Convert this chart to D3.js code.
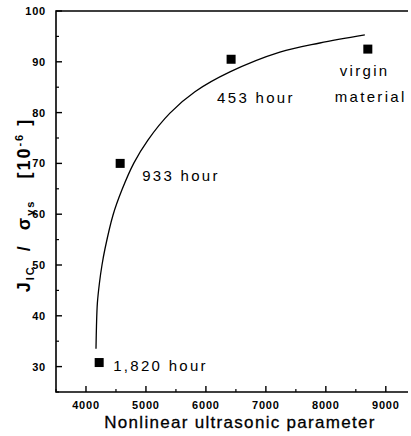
<!DOCTYPE html>
<html>
<head>
<meta charset="utf-8">
<script src="https://cdn.jsdelivr.net/npm/d3@7"></script>
<style>
  body { margin: 0; background: #fff; }
  text { font-family: "Liberation Sans", Arial, sans-serif; fill: #000; }
</style>
</head>
<body>
<div id="chart"></div>
<script>
// measured points
var pointX = [4220, 4570, 6420, 8700];
var pointY = [30.8, 70, 90.5, 92.5];
var pointLabels = [["1,820 hour"], ["933 hour"], ["453 hour"], ["virgin", "material"]];

// fitted curve
var curveX = [4167, 4175, 4190, 4225, 4267, 4317, 4450, 4600, 4800, 5033, 5400, 5817, 6400, 7233, 7900, 8650];
var curveY = [33.5, 38.0, 42.5, 46.5, 50.0, 53.2, 59.8, 64.8, 70.1, 74.6, 79.9, 84.1, 88.0, 91.9, 93.7, 95.3];

var xTicks = [4000, 5000, 6000, 7000, 8000, 9000];
var xMinor = [3500, 4500, 5500, 6500, 7500, 8500];
var yTicks = [30, 40, 50, 60, 70, 80, 90, 100];
var yMinor = [25, 35, 45, 55, 65, 75, 85, 95];

var margin = {
        top: 11,
        right: 3,
        bottom: 44,
        left: 56
    },
    width = 411 - margin.left - margin.right,
    height = 436 - margin.top - margin.bottom;

var svg = d3.select("#chart")
    .append("svg")
    .attr("width", 411)
    .attr("height", 436)
    .append("g")
    .attr("transform", "translate(" + margin.left + "," + margin.top + ")");

var x = d3.scaleLinear()
    .domain([3500, 9370])
    .range([0, width]);
var y = d3.scaleLinear()
    .domain([25, 100])
    .range([height, 0]);

// frame: left, bottom, top (no right side)
svg.append("path")
    .attr("d", "M" + width + ",0H0V" + height + "H" + width)
    .attr("fill", "none")
    .attr("stroke", "#000")
    .attr("stroke-width", 1.6);

// ticks pointing inward
svg.selectAll(".xmaj").data(xTicks).enter().append("line")
    .attr("x1", d => x(d)).attr("x2", d => x(d))
    .attr("y1", height).attr("y2", height - 6)
    .attr("stroke", "#000").attr("stroke-width", 1.4);
svg.selectAll(".xmin").data(xMinor).enter().append("line")
    .attr("x1", d => x(d)).attr("x2", d => x(d))
    .attr("y1", height).attr("y2", height - 3)
    .attr("stroke", "#000").attr("stroke-width", 1.2);
svg.selectAll(".ymaj").data(yTicks).enter().append("line")
    .attr("y1", d => y(d)).attr("y2", d => y(d))
    .attr("x1", 0).attr("x2", 6)
    .attr("stroke", "#000").attr("stroke-width", 1.4);
svg.selectAll(".ymin").data(yMinor).enter().append("line")
    .attr("y1", d => y(d)).attr("y2", d => y(d))
    .attr("x1", 0).attr("x2", 3)
    .attr("stroke", "#000").attr("stroke-width", 1.2);

// tick labels
svg.selectAll(".xlab").data(xTicks).enter().append("text")
    .attr("x", d => x(d))
    .attr("y", height + 17)
    .attr("text-anchor", "middle")
    .style("font-size", "11px")
    .style("font-weight", "bold")
    .style("letter-spacing", "0.8px")
    .text(d => d);
svg.selectAll(".ylab").data(yTicks).enter().append("text")
    .attr("x", -10)
    .attr("y", d => y(d) + 4)
    .attr("text-anchor", "end")
    .style("font-size", "11px")
    .style("font-weight", "bold")
    .style("letter-spacing", "0.8px")
    .text(d => d);

// axis titles
svg.append("text")
    .attr("x", 184)
    .attr("y", height + 36)
    .attr("text-anchor", "middle")
    .style("font-size", "17px")
    .style("letter-spacing", "1.3px")
    .style("stroke", "#000")
    .style("stroke-width", 0.3)
    .text("Nonlinear ultrasonic parameter");

var yt = svg.append("text")
    .attr("transform", "translate(-26," + 194 + ") rotate(-90)")
    .attr("text-anchor", "middle")
    .style("font-size", "18px")
    .style("font-weight", "bold")
    .style("letter-spacing", "2px")
    .attr("xml:space", "preserve");
yt.append("tspan").text("J");
yt.append("tspan").attr("dy", 4).style("font-size", "11px").text("IC");
yt.append("tspan").attr("dy", -4).text("  /  σ");
yt.append("tspan").attr("dy", 4).style("font-size", "11px").text("ys");
yt.append("tspan").attr("dy", -4).text("   [10");
yt.append("tspan").attr("dy", -7).style("font-size", "11px").text("-6");
yt.append("tspan").attr("dy", 7).text(" ]");

// curve
var curveData = curveX.map((d, i) => [d, curveY[i]]);
svg.append("path")
    .datum(curveData)
    .attr("fill", "none")
    .attr("stroke", "#000")
    .attr("stroke-width", 1.3)
    .attr("d", d3.line()
        .x(d => x(d[0]))
        .y(d => y(d[1]))
        .curve(d3.curveCatmullRom));

// markers
var sz = 9;
svg.selectAll(".pt").data(pointX).enter().append("rect")
    .attr("x", (d, i) => x(d) - sz / 2)
    .attr("y", (d, i) => y(pointY[i]) - sz / 2)
    .attr("width", sz)
    .attr("height", sz)
    .attr("fill", "#000");

// labels next to the markers
var offsets = [[14, 8], [22, 18], [-14, 44], [-28, 27]];
pointLabels.forEach(function (lines, i) {
    lines.forEach(function (t, j) {
        svg.append("text")
            .attr("x", x(pointX[i]) + offsets[i][0] - j * 5)
            .attr("y", y(pointY[i]) + offsets[i][1] + j * 26)
            .style("font-size", "15px")
            .style("letter-spacing", "2.3px")
            .text(t);
    });
});
</script>
</body>
</html>
